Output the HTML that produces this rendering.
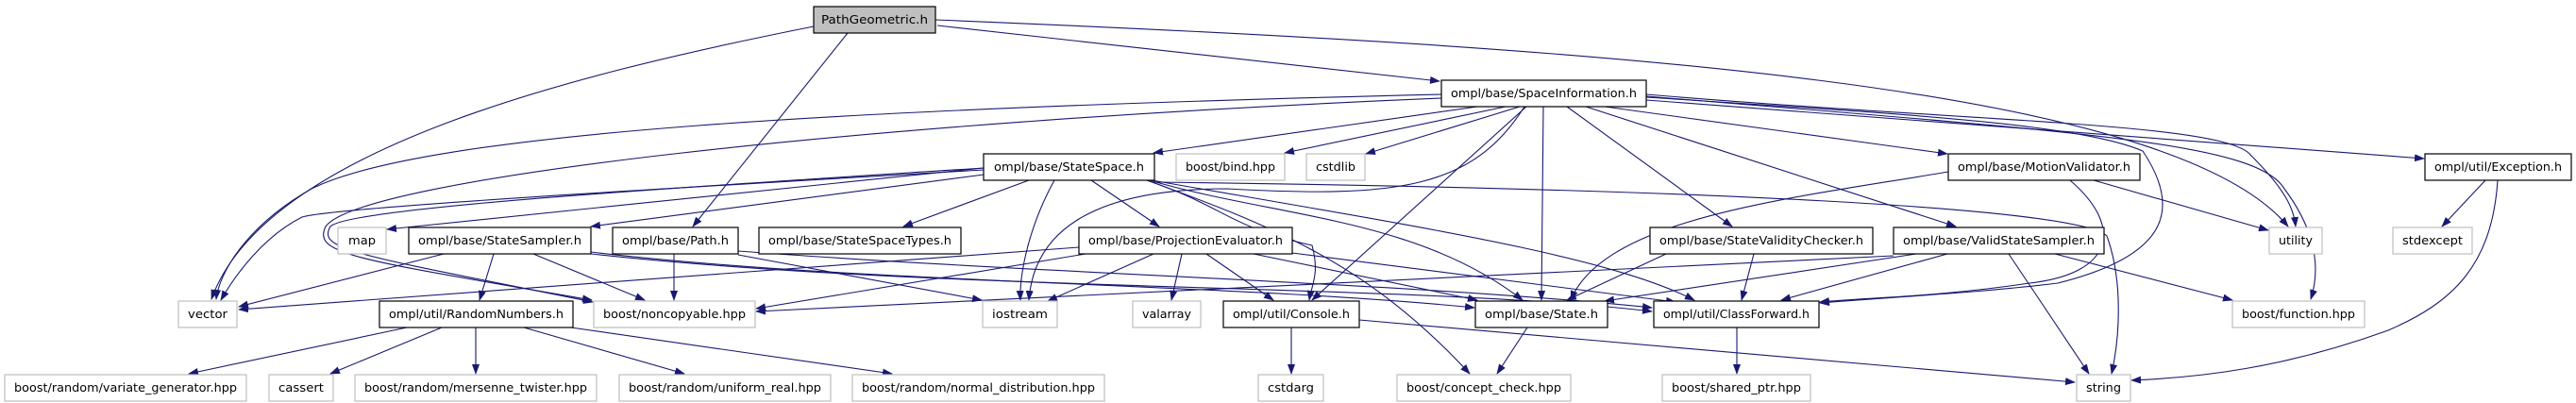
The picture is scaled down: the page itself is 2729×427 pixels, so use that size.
<!DOCTYPE html>
<html><head><meta charset="utf-8"><style>
html,body{margin:0;padding:0;background:#fff;}
svg{display:block;}
text{font-family:"DejaVu Sans","Liberation Sans",sans-serif;font-size:12px;fill:#000;}
.b{fill:#fff;stroke:#000;stroke-width:1.2;}
.g{fill:#fff;stroke:#bfbfbf;stroke-width:1.2;}
.r{fill:#bfbfbf;stroke:#000;stroke-width:1.2;}
path,line{stroke:#191970;stroke-width:1.1;fill:none;}
</style></head><body>
<svg width="2729" height="427" viewBox="0 0 2729 427" xmlns="http://www.w3.org/2000/svg">
<defs><marker id="a" markerWidth="11" markerHeight="8" refX="10" refY="4" orient="auto" markerUnits="userSpaceOnUse"><polygon points="0,0 11,4 0,8" fill="#191970" stroke="none"/></marker></defs>
<g marker-end="url(#a)">
<!-- PathGeometric -->
<path d="M862,28 C600,80 280,160 224,317"/>
<line x1="898" y1="35" x2="734" y2="240"/>
<line x1="993" y1="27" x2="1525" y2="86"/>
<path d="M991,21 C1700,50 2300,90 2424,240"/>
<!-- SpaceInformation -->
<path d="M1527,100 C900,115 450,140 330,200 C260,240 232,290 229,317"/>
<path d="M1527,104 C900,130 380,190 345,240 C330,270 380,275 627,318"/>
<line x1="1565" y1="113" x2="1222" y2="162"/>
<line x1="1595" y1="113" x2="1361" y2="162"/>
<line x1="1610" y1="113" x2="1447" y2="163"/>
<path d="M1615,113 C1560,200 1480,210 1300,200 C1150,200 1095,250 1090,318"/>
<line x1="1617" y1="113" x2="1390" y2="318"/>
<line x1="1635" y1="113" x2="1633" y2="318"/>
<line x1="1660" y1="113" x2="1835" y2="240"/>
<line x1="1680" y1="113" x2="2072" y2="240"/>
<line x1="1700" y1="113" x2="2063" y2="163"/>
<path d="M1744,103 C2000,120 2200,130 2270,160 C2310,220 2300,270 2180,300 C2100,310 2000,315 1928,321"/>
<path d="M1744,100 C2100,130 2360,130 2385,165 C2420,200 2430,220 2432,240"/>
<path d="M1744,102 C2200,140 2390,150 2420,200 C2450,240 2460,280 2448,317"/>
<line x1="1744" y1="106" x2="2568" y2="168"/>
<!-- StateSpace -->
<line x1="1042" y1="178" x2="410" y2="243"/>
<line x1="1042" y1="185" x2="626" y2="240"/>
<path d="M1042,180 C700,200 350,220 320,230 C280,250 250,290 234,318"/>
<path d="M1042,178 C700,200 370,220 350,240 C335,265 380,270 628,320"/>
<line x1="1090" y1="191" x2="957" y2="240"/>
<path d="M1117,191 C1090,240 1080,290 1081,318"/>
<line x1="1156" y1="191" x2="1228" y2="240"/>
<path d="M1215,191 C1300,220 1300,240 1390,260 C1398,290 1390,300 1387,318"/>
<path d="M1215,191 C1350,240 1450,280 1557,396"/>
<path d="M1218,191 C1350,230 1500,230 1613,318"/>
<path d="M1220,191 C1500,240 1700,270 1795,318"/>
<path d="M1223,193 C1800,200 2200,220 2232,250 C2250,300 2245,360 2237,396"/>
<!-- StateSampler -->
<line x1="470" y1="269" x2="253" y2="325"/>
<line x1="523" y1="269" x2="508" y2="318"/>
<line x1="565" y1="269" x2="683" y2="318"/>
<path d="M626,267 C900,300 1300,300 1562,326"/>
<path d="M626,269 C1000,310 1500,300 1750,330"/>
<!-- Path.h -->
<line x1="714" y1="269" x2="714" y2="318"/>
<line x1="782" y1="270" x2="1040" y2="318"/>
<path d="M782,266 C1100,290 1500,300 1750,326"/>
<!-- RandomNumbers -->
<line x1="431" y1="347" x2="200" y2="396"/>
<line x1="468" y1="347" x2="350" y2="396"/>
<line x1="504" y1="347" x2="504" y2="396"/>
<line x1="555" y1="347" x2="725" y2="396"/>
<line x1="605" y1="347" x2="945" y2="396"/>
<!-- ProjectionEvaluator -->
<line x1="1143" y1="262" x2="253" y2="328"/>
<line x1="1150" y1="269" x2="801" y2="327"/>
<line x1="1222" y1="269" x2="1110" y2="319"/>
<line x1="1252" y1="269" x2="1241" y2="318"/>
<line x1="1278" y1="269" x2="1349" y2="318"/>
<line x1="1328" y1="269" x2="1565" y2="318"/>
<line x1="1369" y1="268" x2="1775" y2="320"/>
<!-- Console / State / ClassForward -->
<line x1="1368" y1="347" x2="1368" y2="396"/>
<line x1="1440" y1="339" x2="2198" y2="405"/>
<line x1="1618" y1="347" x2="1586" y2="396"/>
<line x1="1840" y1="347" x2="1840" y2="396"/>
<!-- StateValidityChecker -->
<line x1="1765" y1="269" x2="1660" y2="318"/>
<line x1="1858" y1="269" x2="1845" y2="318"/>
<!-- ValidStateSampler -->
<line x1="2030" y1="269" x2="1700" y2="319"/>
<line x1="2063" y1="269" x2="1887" y2="318"/>
<line x1="2006" y1="271" x2="801" y2="330"/>
<line x1="2128" y1="269" x2="2213" y2="396"/>
<line x1="2177" y1="269" x2="2365" y2="318"/>
<!-- MotionValidator -->
<path d="M2064,182 C1900,210 1700,230 1664,318"/>
<path d="M2193,191 C2250,240 2240,290 2150,300 C2050,315 1980,315 1928,320"/>
<line x1="2218" y1="191" x2="2403" y2="244"/>
<!-- Exception -->
<line x1="2633" y1="191" x2="2587" y2="240"/>
<path d="M2646,191 C2640,280 2600,320 2530,350 C2420,390 2330,400 2258,403"/>
</g>
<!-- nodes -->
<rect class="r" x="862" y="7" width="129" height="28"/><text x="926.5" y="25" text-anchor="middle" textLength="113" lengthAdjust="spacingAndGlyphs">PathGeometric.h</text>
<rect class="b" x="1527" y="85" width="217" height="28"/><text x="1635.5" y="103" text-anchor="middle" textLength="197" lengthAdjust="spacingAndGlyphs">ompl/base/SpaceInformation.h</text>
<rect class="b" x="1042" y="163" width="181" height="28"/><text x="1132.5" y="181" text-anchor="middle" textLength="159" lengthAdjust="spacingAndGlyphs">ompl/base/StateSpace.h</text>
<rect class="g" x="1246" y="163" width="115" height="28"/><text x="1303.5" y="181" text-anchor="middle" textLength="95" lengthAdjust="spacingAndGlyphs">boost/bind.hpp</text>
<rect class="g" x="1384" y="163" width="62" height="28"/><text x="1415" y="181" text-anchor="middle" textLength="42" lengthAdjust="spacingAndGlyphs">cstdlib</text>
<rect class="b" x="2064" y="163" width="203" height="28"/><text x="2165.5" y="181" text-anchor="middle" textLength="183" lengthAdjust="spacingAndGlyphs">ompl/base/MotionValidator.h</text>
<rect class="b" x="2569" y="163" width="155" height="28"/><text x="2646.5" y="181" text-anchor="middle" textLength="135" lengthAdjust="spacingAndGlyphs">ompl/util/Exception.h</text>
<rect class="g" x="358" y="241" width="51" height="28"/><text x="383.5" y="259" text-anchor="middle" textLength="29" lengthAdjust="spacingAndGlyphs">map</text>
<rect class="b" x="433" y="241" width="193" height="28"/><text x="529.5" y="259" text-anchor="middle" textLength="173" lengthAdjust="spacingAndGlyphs">ompl/base/StateSampler.h</text>
<rect class="b" x="649" y="241" width="133" height="28"/><text x="715.5" y="259" text-anchor="middle" textLength="113" lengthAdjust="spacingAndGlyphs">ompl/base/Path.h</text>
<rect class="b" x="804" y="241" width="214" height="28"/><text x="911" y="259" text-anchor="middle" textLength="194" lengthAdjust="spacingAndGlyphs">ompl/base/StateSpaceTypes.h</text>
<rect class="b" x="1143" y="241" width="226" height="28"/><text x="1256" y="259" text-anchor="middle" textLength="206" lengthAdjust="spacingAndGlyphs">ompl/base/ProjectionEvaluator.h</text>
<rect class="b" x="1748" y="241" width="236" height="28"/><text x="1866" y="259" text-anchor="middle" textLength="216" lengthAdjust="spacingAndGlyphs">ompl/base/StateValidityChecker.h</text>
<rect class="b" x="2006" y="241" width="223" height="28"/><text x="2117.5" y="259" text-anchor="middle" textLength="203" lengthAdjust="spacingAndGlyphs">ompl/base/ValidStateSampler.h</text>
<rect class="g" x="2404" y="241" width="56" height="28"/><text x="2432" y="259" text-anchor="middle" textLength="36" lengthAdjust="spacingAndGlyphs">utility</text>
<rect class="g" x="2535" y="241" width="84" height="28"/><text x="2577" y="259" text-anchor="middle" textLength="64" lengthAdjust="spacingAndGlyphs">stdexcept</text>
<rect class="g" x="189" y="319" width="62" height="28"/><text x="220" y="337" text-anchor="middle" textLength="42" lengthAdjust="spacingAndGlyphs">vector</text>
<rect class="b" x="402" y="319" width="205" height="28"/><text x="504.5" y="337" text-anchor="middle" textLength="185" lengthAdjust="spacingAndGlyphs">ompl/util/RandomNumbers.h</text>
<rect class="g" x="629" y="319" width="171" height="28"/><text x="714.5" y="337" text-anchor="middle" textLength="151" lengthAdjust="spacingAndGlyphs">boost/noncopyable.hpp</text>
<rect class="g" x="1041" y="319" width="79" height="28"/><text x="1080.5" y="337" text-anchor="middle" textLength="59" lengthAdjust="spacingAndGlyphs">iostream</text>
<rect class="g" x="1200" y="319" width="72" height="28"/><text x="1236" y="337" text-anchor="middle" textLength="52" lengthAdjust="spacingAndGlyphs">valarray</text>
<rect class="b" x="1296" y="319" width="144" height="28"/><text x="1368" y="337" text-anchor="middle" textLength="124" lengthAdjust="spacingAndGlyphs">ompl/util/Console.h</text>
<rect class="b" x="1563" y="319" width="140" height="28"/><text x="1633" y="337" text-anchor="middle" textLength="120" lengthAdjust="spacingAndGlyphs">ompl/base/State.h</text>
<rect class="b" x="1752" y="319" width="175" height="28"/><text x="1839.5" y="337" text-anchor="middle" textLength="155" lengthAdjust="spacingAndGlyphs">ompl/util/ClassForward.h</text>
<rect class="g" x="2365" y="319" width="140" height="28"/><text x="2435" y="337" text-anchor="middle" textLength="120" lengthAdjust="spacingAndGlyphs">boost/function.hpp</text>
<rect class="g" x="5" y="397" width="256" height="28"/><text x="133" y="415" text-anchor="middle" textLength="236" lengthAdjust="spacingAndGlyphs">boost/random/variate_generator.hpp</text>
<rect class="g" x="285" y="397" width="68" height="28"/><text x="319" y="415" text-anchor="middle" textLength="48" lengthAdjust="spacingAndGlyphs">cassert</text>
<rect class="g" x="376" y="397" width="256" height="28"/><text x="504" y="415" text-anchor="middle" textLength="236" lengthAdjust="spacingAndGlyphs">boost/random/mersenne_twister.hpp</text>
<rect class="g" x="656" y="397" width="224" height="28"/><text x="768" y="415" text-anchor="middle" textLength="204" lengthAdjust="spacingAndGlyphs">boost/random/uniform_real.hpp</text>
<rect class="g" x="903" y="397" width="267" height="28"/><text x="1036.5" y="415" text-anchor="middle" textLength="247" lengthAdjust="spacingAndGlyphs">boost/random/normal_distribution.hpp</text>
<rect class="g" x="1333" y="397" width="69" height="28"/><text x="1367.5" y="415" text-anchor="middle" textLength="49" lengthAdjust="spacingAndGlyphs">cstdarg</text>
<rect class="g" x="1480" y="397" width="184" height="28"/><text x="1572" y="415" text-anchor="middle" textLength="164" lengthAdjust="spacingAndGlyphs">boost/concept_check.hpp</text>
<rect class="g" x="1761" y="397" width="157" height="28"/><text x="1839.5" y="415" text-anchor="middle" textLength="137" lengthAdjust="spacingAndGlyphs">boost/shared_ptr.hpp</text>
<rect class="g" x="2200" y="397" width="57" height="28"/><text x="2228.5" y="415" text-anchor="middle" textLength="37" lengthAdjust="spacingAndGlyphs">string</text>
</svg>
</body></html>
